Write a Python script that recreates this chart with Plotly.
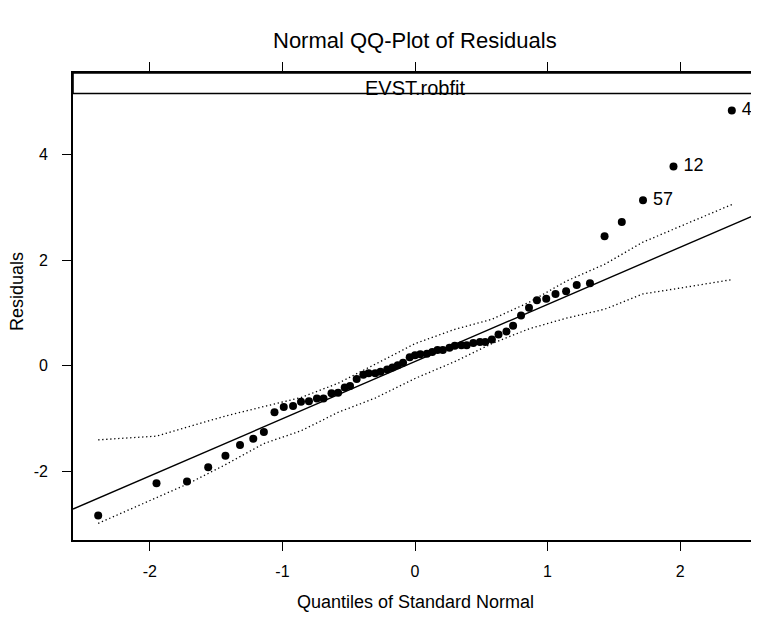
import plotly.graph_objects as go

# normal quantiles (x) and sorted residuals (y)
quantiles = [-2.39, -1.95, -1.72, -1.56, -1.43, -1.32, -1.22, -1.14, -1.06, -0.99,
             -0.92, -0.86, -0.80, -0.74, -0.69, -0.63, -0.58, -0.53, -0.49, -0.44,
             -0.39, -0.35, -0.30, -0.26, -0.21, -0.17, -0.13, -0.09, -0.04, 0.00,
             0.04, 0.09, 0.13, 0.17, 0.21, 0.26, 0.30, 0.35, 0.39, 0.44,
             0.49, 0.53, 0.58, 0.63, 0.69, 0.74, 0.80, 0.86, 0.92, 0.99,
             1.06, 1.14, 1.22, 1.32, 1.43, 1.56, 1.72, 1.95, 2.39]
residuals = [-2.83, -2.22, -2.19, -1.92, -1.70, -1.50, -1.38, -1.25, -0.88, -0.78,
             -0.76, -0.68, -0.67, -0.62, -0.62, -0.52, -0.51, -0.41, -0.38, -0.25,
             -0.17, -0.14, -0.14, -0.11, -0.07, -0.03, 0.01, 0.06, 0.16, 0.20,
             0.22, 0.23, 0.26, 0.30, 0.30, 0.34, 0.38, 0.39, 0.39, 0.43,
             0.45, 0.45, 0.50, 0.59, 0.65, 0.76, 0.95, 1.10, 1.24, 1.27,
             1.36, 1.41, 1.53, 1.56, 2.45, 2.72, 3.13, 3.77, 4.83]

# labelled outliers
outlier_x = [1.72, 1.95, 2.39]
outlier_y = [3.13, 3.77, 4.83]
outlier_labels = ["57", "12", "48"]

# reference line end points
line_x = [-2.58, 2.58]
line_y = [-2.71, 2.87]

# simulated envelope
env_x = [-2.39, -1.95, -1.72, -1.43, -1.14, -0.86, -0.58, -0.30, -0.13, 0.00,
         0.30, 0.58, 0.86, 1.14, 1.43, 1.72, 1.95, 2.39]
env_upper = [-1.40, -1.33, -1.16, -0.95, -0.77, -0.60, -0.33, 0.04, 0.25, 0.42,
             0.69, 0.88, 1.20, 1.60, 1.92, 2.34, 2.58, 3.05]
env_lower = [-2.98, -2.50, -2.24, -1.87, -1.47, -1.23, -0.88, -0.61, -0.40, -0.24,
             0.08, 0.42, 0.70, 0.90, 1.07, 1.36, 1.45, 1.63]

x_ticks = [-2, -1, 0, 1, 2]
y_ticks = [-2, 0, 2, 4]

font = "Liberation Sans, Arial, sans-serif"

fig = go.Figure()

for env in (env_upper, env_lower):
    fig.add_trace(go.Scatter(x=env_x, y=env, mode="lines",
                             line=dict(color="black", width=1.3, dash="1.3px,2.7px"),
                             hoverinfo="skip"))

fig.add_trace(go.Scatter(x=line_x, y=line_y, mode="lines",
                         line=dict(color="black", width=1.4)))

fig.add_trace(go.Scatter(x=quantiles, y=residuals, mode="markers",
                         marker=dict(color="black", size=8)))

# point labels, clipped by the panel like the original
fig.add_trace(go.Scatter(x=outlier_x, y=outlier_y, mode="text",
                         text=["\u00a0\u00a0" + s for s in outlier_labels],
                         textposition="middle right",
                         textfont=dict(size=18, color="black", family=font)))

axis_common = dict(showgrid=False, zeroline=False, showline=True, linecolor="black",
                   linewidth=1.6, mirror="ticks", ticks="outside", ticklen=9,
                   tickwidth=1.2, tickcolor="black", automargin=False,
                   tickfont=dict(size=16, color="black", family=font))

fig.update_xaxes(range=[-2.58, 2.58], tickvals=x_ticks,
                 ticktext=[str(v) for v in x_ticks], ticklabelstandoff=7,
                 **axis_common)
fig.update_yaxes(range=[-3.295, 5.539], tickvals=y_ticks,
                 ticktext=[str(v) for v in y_ticks], ticklabelstandoff=11,
                 **axis_common)

# strip on top of the panel
fig.add_shape(type="rect", xref="x domain", yref="y domain",
              x0=0, x1=1, y0=0.956, y1=1,
              line=dict(color="black", width=1.6), fillcolor="white", layer="above")
fig.add_annotation(text="EVST.robfit", xref="x domain", yref="y domain",
                   x=0.5, y=0.956, yanchor="bottom", yshift=-7, showarrow=False,
                   font=dict(size=20, color="black", family=font))

fig.add_annotation(text="Normal QQ-Plot of Residuals", xref="paper", yref="paper",
                   x=0.5, y=1, yanchor="middle", yshift=33, showarrow=False,
                   font=dict(size=22, color="black", family=font))
fig.add_annotation(text="Quantiles of Standard Normal", xref="paper", yref="paper",
                   x=0.5, y=0, yanchor="middle", yshift=-62, showarrow=False,
                   font=dict(size=18, color="black", family=font))
fig.add_annotation(text="Residuals", xref="paper", yref="paper",
                   x=0, y=0.531, xanchor="center", yanchor="middle", xshift=-56,
                   textangle=-90, showarrow=False,
                   font=dict(size=18, color="black", family=font))

# the page adds an 8px body margin, so the figure is offset to compensate
fig.update_layout(width=751, height=610, showlegend=False,
                  margin=dict(l=65, r=2, t=65, b=78),
                  plot_bgcolor="white", paper_bgcolor="white",
                  font=dict(family=font, color="black"))

fig.write_html("out.html")
